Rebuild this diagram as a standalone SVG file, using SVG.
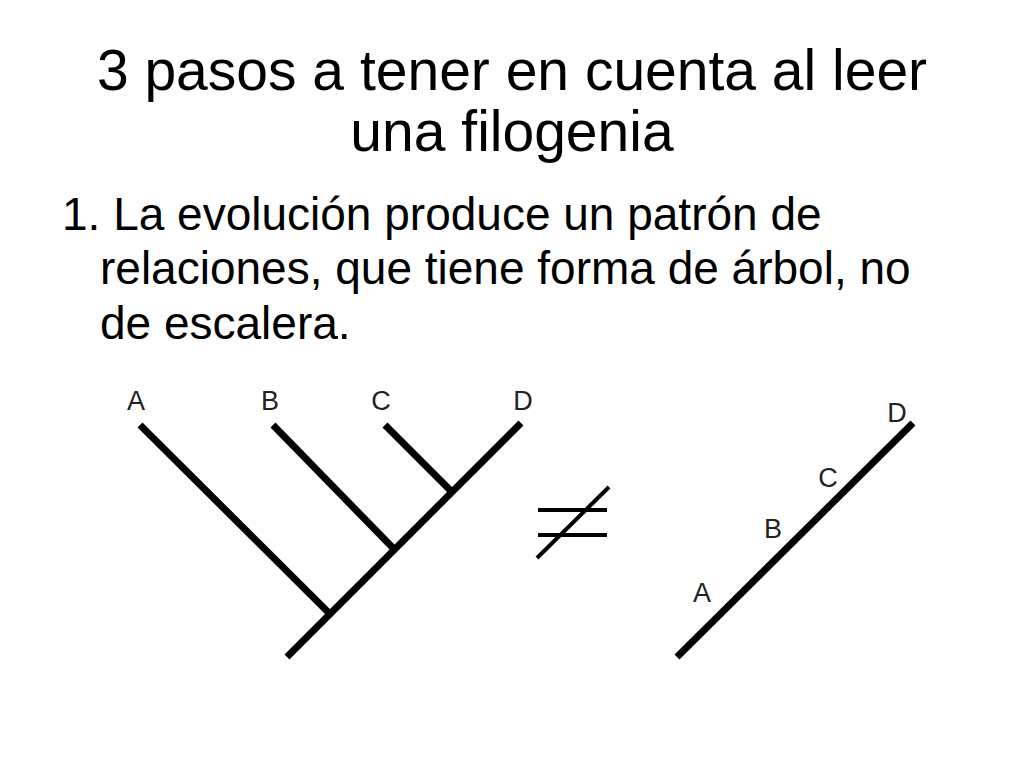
<svg xmlns="http://www.w3.org/2000/svg" width="1024" height="768" viewBox="0 0 1024 768">
<style>
.t{font-family:"Liberation Sans",Arial,sans-serif;fill:#000}
.title{font-size:57px;text-anchor:middle}
.body{font-size:46px}
.lbl{font-family:"Liberation Sans",Arial,sans-serif;font-size:27px;fill:#222;text-anchor:middle}
.br{stroke:#000;stroke-width:7;stroke-linecap:butt;fill:none}
.ne{stroke:#000;stroke-width:4;fill:none}
</style>
<rect width="1024" height="768" fill="#fff"/>
<g id="title">
<text class="t title" x="512" y="90">3 pasos a tener en cuenta al leer</text>
<text class="t title" x="512" y="151">una filogenia</text>
</g>
<g id="body">
<text class="t body" x="62" y="230">1. La evolución produce un patrón de</text>
<text class="t body" x="100" y="284">relaciones, que tiene forma de árbol, no</text>
<text class="t body" x="100" y="339">de escalera.</text>
</g>
<g id="connectors">
<line class="br" x1="140" y1="425" x2="328" y2="612"/>
<line class="br" x1="287" y1="657" x2="521" y2="423"/>
<line class="br" x1="273" y1="425" x2="393" y2="548"/>
<line class="br" x1="385" y1="425" x2="450" y2="490"/>
<line class="br" x1="677" y1="657" x2="913" y2="423"/>
</g>
<g id="tree-labels">
<text class="lbl" x="136" y="410">A</text>
<text class="lbl" x="270" y="410">B</text>
<text class="lbl" x="381" y="410">C</text>
<text class="lbl" x="523" y="410">D</text>
</g>
<g id="neq">
<line class="ne" x1="538" y1="510" x2="607" y2="510"/>
<line class="ne" x1="538" y1="535" x2="607" y2="535"/>
<line class="ne" x1="537" y1="558" x2="609" y2="487"/>
</g>
<g id="ladder-labels">
<text class="lbl" x="897" y="422">D</text>
<text class="lbl" x="828" y="487">C</text>
<text class="lbl" x="773" y="538">B</text>
<text class="lbl" x="702" y="602">A</text>
</g>
</svg>
